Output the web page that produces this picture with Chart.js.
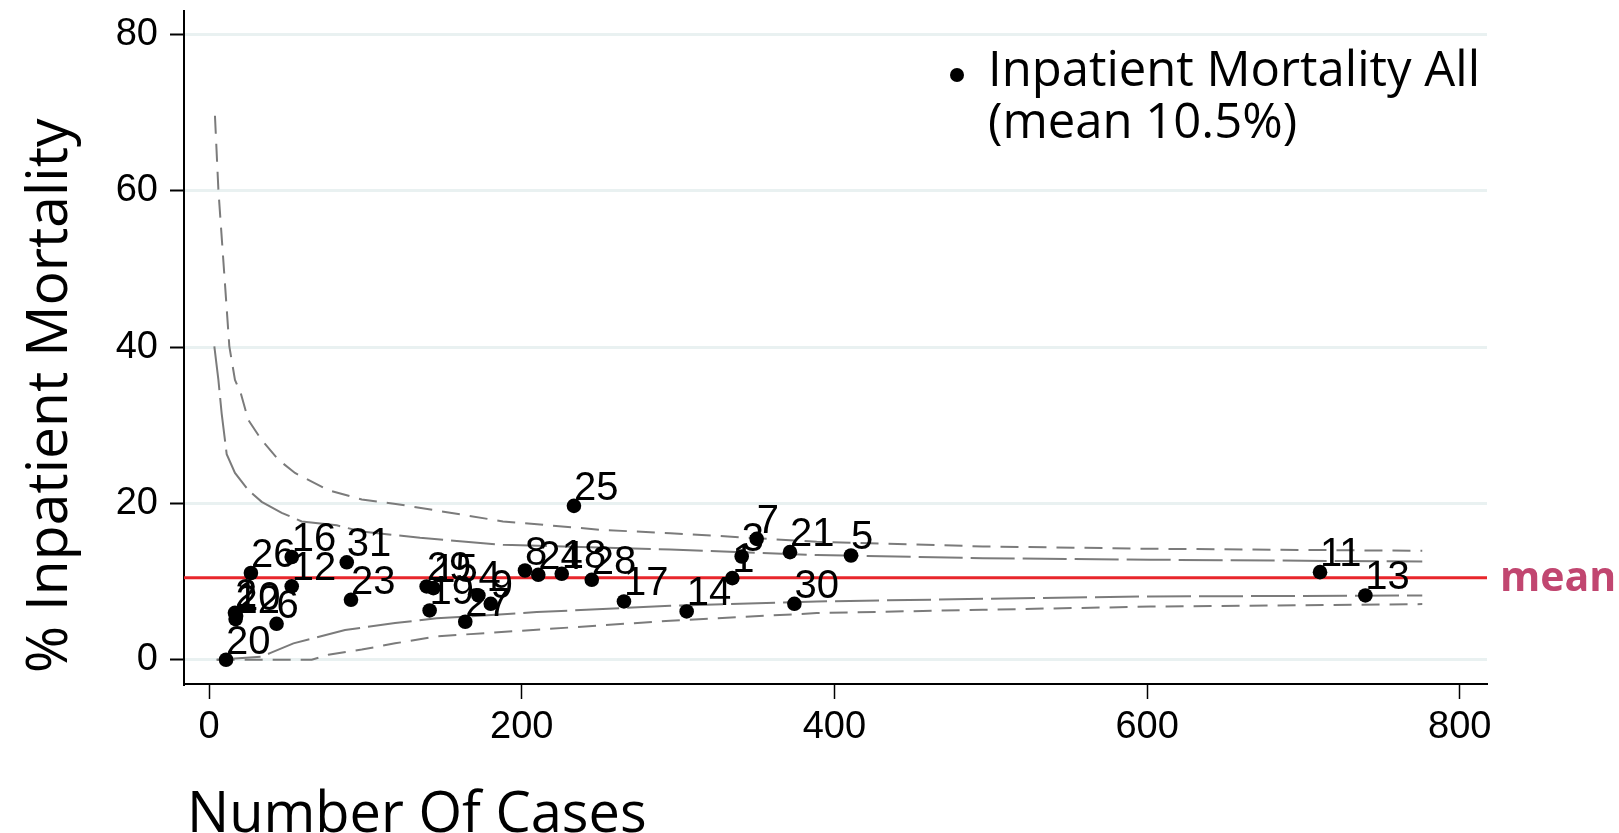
<!DOCTYPE html>
<html>
<head>
<meta charset="utf-8">
<script src="https://cdn.jsdelivr.net/npm/chart.js@4.4.1/dist/chart.umd.min.js"></script>
<style>
  html, body { margin: 0; padding: 0; background: #fff; }
  #wrap { width: 1619px; height: 833px; }
</style>
</head>
<body>
<div id="wrap"><canvas id="funnel" width="1619" height="833"></canvas></div>
<script>
// hospital data
const hospitalLabels = ['20', '2', '22', '10', '26', '6', '16', '12', '31', '23', '29', '15', '19', '27', '4', '9',
  '8', '24', '18', '25', '28', '17', '14', '1', '3', '7', '21', '30', '5', '11', '13'];
const caseCounts = [10.9, 16.6, 17.0, 17.3, 26.8, 43.2, 52.9, 52.9, 88.1, 90.8, 139.2, 143.5, 141.1, 163.9, 172.3, 180.2,
  202.1, 210.6, 225.6, 233.4, 244.8, 265.4, 305.5, 334.7, 340.7, 350.3, 371.6, 374.4, 410.6, 710.6, 739.6];
const mortalityPct = [0, 6.0, 5.2, 5.6, 11.1, 4.6, 13.15, 9.4, 12.47, 7.67, 9.38, 9.17, 6.31, 4.86, 8.23, 7.16,
  11.42, 10.87, 11.0, 19.69, 10.23, 7.46, 6.18, 10.44, 13.21, 15.47, 13.77, 7.16, 13.34, 11.21, 8.23];

const meanPct = 10.5;

// control limits
const outerUpperX = [3.8, 6.0, 13, 16.6, 20.3, 25.1, 33.7, 44.3, 55, 76.3, 97.7, 124, 188, 252, 295, 388.7, 495, 602, 776];
const outerUpperY = [69.6, 60.1, 40.1, 35.8, 34.1, 30.7, 28.1, 25.6, 23.9, 21.7, 20.5, 19.8, 17.7, 16.6, 16.2, 15.1, 14.5, 14.2, 13.94];
const innerUpperX = [3.4, 6.0, 8.1, 11.3, 16.6, 25.1, 33.7, 46.5, 59.3, 81.7, 97.7, 135, 188, 295, 388.7, 495, 602, 776];
const innerUpperY = [40.1, 35.8, 31.5, 26.3, 23.9, 21.7, 20.2, 18.8, 17.7, 17.2, 16.4, 15.6, 14.7, 14.1, 13.4, 13.0, 12.8, 12.57];
const innerLowerX = [4.9, 33.7, 39, 54, 87, 119, 145.6, 209.6, 295, 388.7, 495, 602, 776];
const innerLowerY = [0, 0.4, 0.85, 2.1, 3.8, 4.7, 5.3, 6.1, 6.9, 7.46, 7.8, 8.1, 8.22];
const outerLowerX = [4.9, 65.7, 76.3, 97.7, 119, 145.6, 209.6, 295, 388.7, 495, 602, 776];
const outerLowerY = [0, 0, 0.64, 1.3, 2.1, 3.0, 3.84, 5.0, 5.97, 6.4, 6.8, 7.12];

const xTicks = [0, 200, 400, 600, 800];
const yTicks = [0, 20, 40, 60, 80];
const xRange = [-16, 817.4];
const yRange = [-3.1, 83];

const toXY = (xs, ys) => xs.map((x, i) => ({ x: x, y: ys[i] }));

const tickFont = { family: 'Liberation Sans, Arial, sans-serif', size: 38 };
const titleFont = 'Open Sans, sans-serif';

const limitLine = (xs, ys, dash) => ({
  data: toXY(xs, ys),
  showLine: true,
  pointRadius: 0,
  borderColor: '#7b7b7b',
  borderWidth: 2,
  borderDash: dash,
  tension: 0,
  fill: false
});

// no extra room for half tick labels, the plot box is fixed
const noPad = s => { s.paddingTop = 0; s.paddingBottom = 0; s.paddingLeft = 0; s.paddingRight = 0; };

// labels, titles and legend drawn on top
const annotations = {
  id: 'annotations',
  afterDatasetsDraw(chart) {
    const ctx = chart.ctx;
    const meta = chart.getDatasetMeta(0);
    ctx.save();
    ctx.fillStyle = '#000';
    ctx.font = '40px Liberation Sans, Arial, sans-serif';
    ctx.textBaseline = 'alphabetic';
    ctx.textAlign = 'left';
    meta.data.forEach((pt, i) => {
      ctx.fillText(hospitalLabels[i], pt.x, pt.y - 6);
    });
    ctx.restore();
  },
  afterDraw(chart) {
    const ctx = chart.ctx;
    const area = chart.chartArea;
    const yMean = chart.scales.y.getPixelForValue(meanPct);
    ctx.save();
    // mean label
    ctx.fillStyle = '#c14670';
    ctx.font = 'bold 41px ' + titleFont;
    ctx.textBaseline = 'middle';
    ctx.fillText('mean', area.right + 13, yMean + 2);

    // axis titles
    ctx.fillStyle = '#000';
    ctx.textBaseline = 'alphabetic';
    ctx.font = '56px ' + titleFont;
    ctx.fillText('Number Of Cases', 187, 832);
    ctx.save();
    ctx.translate(67, 673);
    ctx.rotate(-Math.PI / 2);
    ctx.font = '57px ' + titleFont;
    ctx.fillText('% Inpatient Mortality', 0, 0);
    ctx.restore();

    // legend
    ctx.beginPath();
    ctx.arc(957, 75, 7, 0, Math.PI * 2);
    ctx.fill();
    ctx.font = '49px ' + titleFont;
    ctx.fillText('Inpatient Mortality All', 988, 86);
    ctx.fillText('(mean 10.5%)', 988, 138);
    ctx.restore();
  }
};

new Chart(document.getElementById('funnel'), {
  type: 'scatter',
  data: {
    datasets: [
      {
        data: toXY(caseCounts, mortalityPct),
        pointRadius: 7.3,
        pointBackgroundColor: '#000',
        pointBorderWidth: 0
      },
      {
        data: [{ x: xRange[0], y: meanPct }, { x: xRange[1], y: meanPct }],
        showLine: true,
        pointRadius: 0,
        borderColor: '#e8262b',
        borderWidth: 3
      },
      limitLine(innerUpperX, innerUpperY, [44, 8]),
      limitLine(innerLowerX, innerLowerY, [44, 8]),
      limitLine(outerUpperX, outerUpperY, [18, 10]),
      limitLine(outerLowerX, outerLowerY, [18, 10])
    ]
  },
  options: {
    responsive: false,
    animation: false,
    layout: { padding: { left: 0, top: 11, right: 132, bottom: 0 } },
    plugins: {
      legend: { display: false },
      tooltip: { enabled: false }
    },
    scales: {
      x: {
        type: 'linear',
        min: xRange[0],
        max: xRange[1],
        afterBuildTicks: s => { s.ticks = xTicks.map(v => ({ value: v })); },
        afterFit: s => { s.height = 149; noPad(s); },
        ticks: { font: tickFont, color: '#000', padding: 6, maxRotation: 0, autoSkip: false },
        grid: { drawOnChartArea: false, drawTicks: true, tickLength: 15, tickColor: '#000', tickWidth: 1.5 },
        border: { display: true, color: '#000', width: 2 }
      },
      y: {
        type: 'linear',
        min: yRange[0],
        max: yRange[1],
        afterBuildTicks: s => { s.ticks = yTicks.map(v => ({ value: v })); },
        afterFit: s => { s.width = 184; noPad(s); },
        ticks: { font: tickFont, color: '#000', padding: 12, autoSkip: false },
        grid: { color: '#e9f1f1', lineWidth: 3, drawTicks: true, tickLength: 14, tickColor: '#000', tickWidth: 2 },
        border: { display: true, color: '#000', width: 2 }
      }
    }
  },
  plugins: [annotations]
});
</script>
</body>
</html>
